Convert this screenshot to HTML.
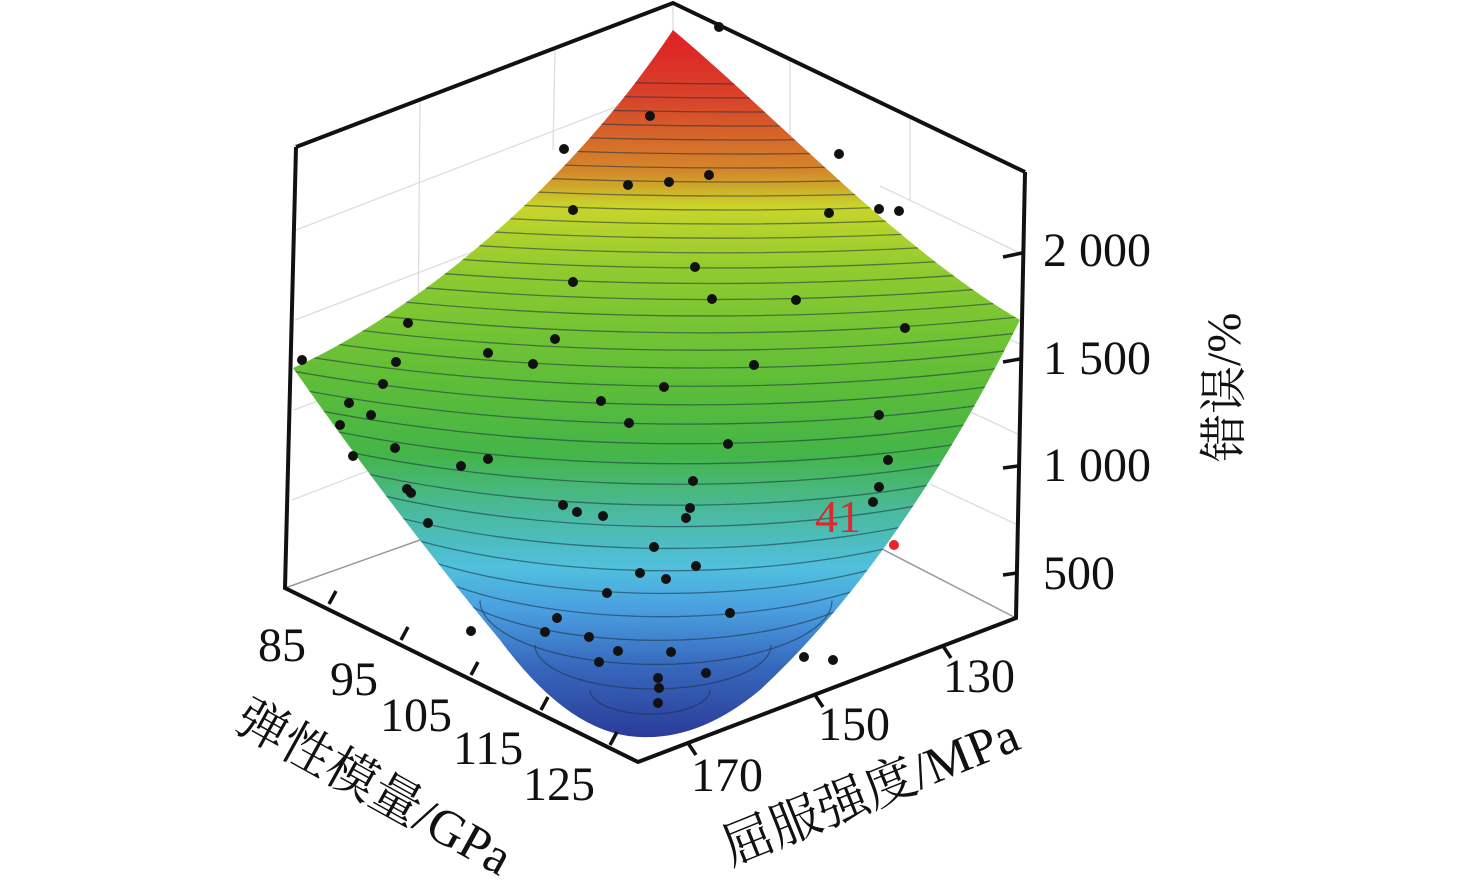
<!DOCTYPE html>
<html><head><meta charset="utf-8"><style>html,body{margin:0;padding:0;background:#fff}svg{display:block}</style></head>
<body>
<svg width="1476" height="885" viewBox="0 0 1476 885" xmlns="http://www.w3.org/2000/svg" font-family="'Liberation Serif','Noto Serif CJK SC',serif">
<defs>
<linearGradient id="g" x1="0" y1="30" x2="0" y2="737" gradientUnits="userSpaceOnUse">
<stop offset="0" stop-color="#e01f24"/>
<stop offset="0.1" stop-color="#d8442a"/>
<stop offset="0.2" stop-color="#d4882a"/>
<stop offset="0.25" stop-color="#c9d52a"/>
<stop offset="0.34" stop-color="#8fcb2f"/>
<stop offset="0.5" stop-color="#5dbd38"/>
<stop offset="0.6" stop-color="#44b548"/>
<stop offset="0.68" stop-color="#4ab99b"/>
<stop offset="0.76" stop-color="#50c0de"/>
<stop offset="0.82" stop-color="#4a9fe0"/>
<stop offset="0.9" stop-color="#3768bd"/>
<stop offset="1" stop-color="#2b3c98"/>
</linearGradient>
<clipPath id="c"><path d="M293,368 C400,320 560,200 673,30 C780,120 900,250 1020,320 Q900,560 760,690 Q700,740 640,737 Q570,735 500,640 Q400,520 293,368 Z"/></clipPath>
</defs>
<g stroke="#ddd" stroke-width="1.3" fill="none">
<path d="M673,3 L673,60"/>
<path d="M296,230 L673,85 M295,320 L673,175 M294,410 L420,362 M292,500 L430,447"/>
<path d="M1024,255 L880,186 M1022,345 L990,330 M1020,435 L960,407 M1018,525 L930,484"/>
<path d="M420,100 L418,340 M555,50 L553,150 M790,60 L790,140 M910,115 L910,200"/>
</g>
<path d="M285,588 L420,540" stroke="#999" stroke-width="1.5"/>
<path d="M1016,618 L880,548" stroke="#999" stroke-width="1.5"/>
<path d="M293,368 C400,320 560,200 673,30 C780,120 900,250 1020,320 Q900,560 760,690 Q700,740 640,737 Q570,735 500,640 Q400,520 293,368 Z" fill="url(#g)"/>
<g clip-path="url(#c)" fill="none" stroke="#1c3040" stroke-opacity="0.55" stroke-width="1.3" id="cont"></g>
<g stroke="#111" stroke-width="4" fill="none">
<path d="M296,147 L673,3 L1025,172"/>
<path d="M296,147 L285,588 L638,762 L1016,618 L1025,172"/>
</g>
<g stroke="#111" stroke-width="3.5">
<path d="M329,604 L336,591 M401,640 L408,627 M471,675 L478,662 M541,710 L548,697 M610,745 L617,732"/>
<path d="M688,743 L696,755 M815,695 L823,707 M943,646 L951,658"/>
<path d="M1003,257 L1022,253 M1003,362 L1020,359 M1003,468 L1018,466 M1003,575 L1017,573"/>
</g>
<g fill="#111" id="pts"></g>
<circle cx="894" cy="545" r="5" fill="#e8242a"/>
<text x="815" y="532" font-size="46" fill="#e0282a">41</text>
<g font-size="48" fill="#111">
<text x="258" y="661">85</text>
<text x="330" y="695">95</text>
<text x="380" y="731">105</text>
<text x="453" y="764">115</text>
<text x="523" y="800">125</text>
<text x="943" y="692">130</text>
<text x="818" y="740">150</text>
<text x="691" y="791">170</text>
<text x="1043" y="266">2 000</text>
<text x="1043" y="374">1 500</text>
<text x="1043" y="481">1 000</text>
<text x="1043" y="589">500</text>
<text transform="translate(1240,462) rotate(-90)" font-size="48">错误/%</text>
<text transform="translate(232,728) rotate(29)" font-size="51">弹性模量/GPa</text>
<text transform="translate(731,866) rotate(-22)" font-size="51">屈服强度/MPa</text>
</g>
<script>
(function(){
var ns="http://www.w3.org/2000/svg",g=document.getElementById('cont');
var yb=714;
for(var i=0;i<36;i++){
 var rx=60+i*58, ry=24+i*20, cx=650+i*3, cy=yb-ry;
 var e=document.createElementNS(ns,'path');
 e.setAttribute('d','M'+(cx-rx)+','+cy+' A'+rx+','+ry+' 0 0 0 '+(cx+rx)+','+cy);
 g.appendChild(e);
 yb-= Math.max(14,25-i*0.45);
}
var p=[[719,27],[650,116],[564,149],[839,154],[628,185],[669,182],[709,175],[573,210],[829,213],[879,209],[899,211],[695,267],[573,282],[712,299],[796,300],[905,328],[408,323],[555,339],[488,353],[302,360],[396,362],[533,364],[754,365],[383,384],[664,387],[349,403],[601,401],[371,415],[340,425],[629,423],[879,415],[728,444],[395,448],[353,456],[888,460],[488,459],[461,466],[693,481],[879,487],[407,489],[411,493],[873,502],[563,505],[577,512],[603,516],[690,508],[686,518],[428,523],[654,547],[696,566],[640,573],[666,579],[607,593],[730,613],[557,618],[545,632],[471,631],[589,637],[804,657],[833,660],[618,651],[671,652],[599,662],[706,673],[658,678],[659,688],[658,703]];
var pg=document.getElementById('pts');
p.forEach(function(q){var c=document.createElementNS(ns,'circle');c.setAttribute('cx',q[0]);c.setAttribute('cy',q[1]);c.setAttribute('r',5);pg.appendChild(c);});
})();
</script>
</svg>
</body></html>
